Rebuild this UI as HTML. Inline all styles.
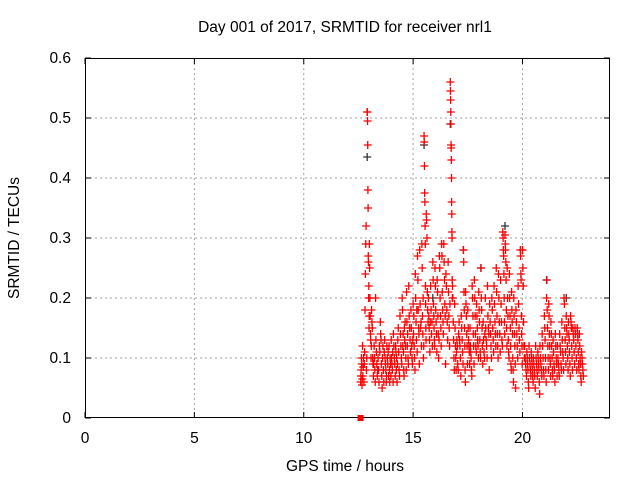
<!DOCTYPE html>
<html><head><meta charset="utf-8"><style>
body{margin:0;background:#fff;}
svg{display:block;font-family:"Liberation Sans",sans-serif;}
</style></head><body>
<svg id="chart" width="640" height="480">
<text x="345" y="32" text-anchor="middle" font-size="15.5">Day 001 of 2017, SRMTID for receiver nrl1</text>
<text x="345" y="471" text-anchor="middle" font-size="15.5">GPS time / hours</text>
<text x="19" y="238" text-anchor="middle" font-size="15.5" transform="rotate(-90 19 238)">SRMTID / TECUs</text>
<g id="grid"></g>
<g id="axes"></g>
<g id="marks"></g>
</svg>
<script>
const xTicks=[0,5,10,15,20];
const yTicks=[0,0.1,0.2,0.3,0.4,0.5,0.6];
const yTickLabels=["0","0.1","0.2","0.3","0.4","0.5","0.6"];
const hours=[12.6,12.7,12.8,12.9,13.0,13.1,13.2,13.3,13.4,13.5,13.6,13.7,13.8,13.9,14.0,14.1,14.2,14.3,14.4,14.5,14.6,14.7,14.8,14.9,15.0,15.1,15.2,15.3,15.4,15.5,15.6,15.7,15.8,15.9,16.0,16.1,16.2,16.3,16.4,16.5,16.6,16.7,16.8,16.9,17.0,17.1,17.2,17.3,17.4,17.5,17.6,17.7,17.8,17.9,18.0,18.1,18.2,18.3,18.4,18.5,18.6,18.7,18.8,18.9,19.0,19.1,19.2,19.3,19.4,19.5,19.6,19.7,19.8,19.9,20.0,20.1,20.2,20.3,20.4,20.5,20.6,20.7,20.8,20.9,21.0,21.1,21.2,21.3,21.4,21.5,21.6,21.7,21.8,21.9,22.0,22.1,22.2,22.3,22.4,22.5,22.6,22.7];
const values=[
[.06,.07,.08,.1,.09,.055,.065,.12],[.07,.085,.1,.06,.09,.11],[.18,.24,.29,.32,.08,.1],
[.51,.51,.495,.455,.38,.35,.27,.26,.2,.22,.15,.17],[.29,.25,.2,.17,.14,.13,.1,.12],[.18,.16,.15,.1,.09,.07],
[.09,.12,.1,.08,.06,.2],[.13,.11,.09,.07,.08],[.1,.08,.06,.12,.11],[.16,.14,.13,.09,.07,.05],
[.1,.12,.08,.06,.11],[.13,.1,.09,.08,.06,.07],[.12,.1,.09,.11,.07],[.12,.08,.06,.1,.09,.07],
[.13,.1,.09,.08,.11,.06],[.14,.12,.1,.09,.07],[.12,.11,.08,.1,.06,.09],[.13,.15,.11,.08,.07],
[.17,.14,.12,.1,.09],[.2,.18,.12,.14,.11,.08,.07],[.15,.13,.16,.12,.1,.08],[.21,.16,.12,.14,.1,.09],
[.22,.17,.15,.13,.11],[.18,.15,.12,.1,.09,.13],[.19,.14,.17,.12,.1,.08],[.24,.2,.16,.13,.18,.11],
[.27,.23,.18,.15,.14,.09],[.28,.19,.15,.16,.12],[.29,.25,.17,.14,.2,.1,.12],
[.47,.46,.42,.375,.36,.32,.29,.22,.19,.15,.13],[.34,.33,.3,.21,.18,.16],[.2,.17,.15,.13,.11,.16],
[.22,.18,.14,.16,.12],[.26,.23,.19,.17,.15,.13,.12],[.25,.22,.18,.16,.14,.11],[.23,.21,.17,.14,.1,.13],
[.27,.25,.2,.17,.15,.12],[.29,.27,.21,.18,.16,.14],[.29,.26,.23,.19,.17,.09],[.24,.22,.18,.16,.13],
[.26,.21,.17,.15,.12,.19],[.56,.545,.53,.51,.49,.455,.45,.43,.4,.36,.34,.31,.3,.23,.2],
[.22,.2,.16,.13,.1,.08],[.19,.15,.12,.1,.08,.11],[.13,.12,.09,.08,.14],[.16,.13,.12,.1,.07],
[.17,.15,.13,.11,.09],[.28,.26,.21,.18,.15,.12,.08,.06],[.21,.19,.17,.14,.12,.09],[.18,.15,.13,.12,.11,.09],
[.15,.12,.11,.1,.08,.07],[.22,.2,.17,.14,.12,.09],[.23,.2,.17,.14,.12,.11],[.19,.17,.15,.13,.12,.1],
[.21,.18,.16,.13,.11,.1],[.25,.2,.18,.15,.12,.09],[.16,.13,.11,.1,.14],[.2,.15,.13,.12,.1],
[.22,.17,.15,.14,.08],[.19,.16,.14,.12,.1],[.2,.18,.15,.13,.11],[.22,.19,.16,.14,.12],
[.25,.21,.17,.14,.12,.1],[.24,.2,.16,.14,.11],[.23,.19,.16,.13,.12],[.31,.3,.28,.27,.24,.2,.16,.14],
[.305,.29,.28,.26,.23,.18,.15,.12],[.25,.2,.17,.13,.11,.1],[.24,.2,.17,.15,.12,.09,.08],
[.21,.18,.16,.14,.1,.08,.06],[.2,.17,.14,.12,.09,.05],[.18,.16,.14,.12,.1],[.22,.19,.15,.13,.11],
[.28,.27,.24,.23,.17,.14,.12,.09],[.28,.25,.22,.16,.12,.1],[.12,.1,.09,.08,.07],[.11,.1,.09,.08,.06,.05],
[.12,.1,.09,.08,.07],[.11,.1,.09,.08,.07,.06],[.1,.09,.08,.07,.05],[.12,.1,.09,.08,.07],
[.11,.1,.09,.08,.06,.04],[.12,.1,.09,.08,.07],[.14,.12,.1,.08,.07],[.17,.15,.13,.1,.08,.06],
[.2,.23,.18,.15,.12,.1,.08],[.19,.17,.14,.12,.1,.09,.07],[.16,.14,.12,.1,.08,.07],[.13,.11,.09,.08,.06],
[.14,.12,.1,.09,.07],[.12,.1,.09,.08,.07],[.14,.12,.11,.09,.08],[.16,.13,.11,.1,.08],
[.2,.19,.15,.13,.11,.09],[.17,.15,.14,.12,.1,.08],[.16,.14,.13,.11,.09,.07],[.17,.16,.15,.12,.1,.08],
[.15,.14,.13,.11,.09],[.15,.14,.12,.1,.08],[.15,.14,.13,.11,.09,.08],[.14,.12,.1,.09,.07,.06],[.11,.1,.09,.08,.07]
];
const blackHours=[12.9,15.5,16.7,19.2,21.1,22.0,17.3,18.1,15.9,20.0];
const blackValues=[.435,.455,.49,.32,.23,.2,.28,.25,.2,.28];
const zeroHours=[12.6];
const zeroValues=[0];

const L=85,R=610,T=58,B=418,XMAX=24,YMAX=0.6;
const sx=h=>L+(h/XMAX)*(R-L);
const sy=v=>B-(v/YMAX)*(B-T);
const NS="http://www.w3.org/2000/svg";
function mk(tag,attrs,parent){const e=document.createElementNS(NS,tag);for(const k in attrs)e.setAttribute(k,attrs[k]);parent.appendChild(e);return e;}
const grid=document.getElementById('grid'),axes=document.getElementById('axes'),marks=document.getElementById('marks');
yTicks.forEach((v,i)=>{
  const y=sy(v);
  if(i>0&&i<yTicks.length-1){const g=mk('line',{x1:L,x2:R,y1:y,y2:y,stroke:'#a0a0a0','stroke-dasharray':'2,3'},grid);
  
  }
  mk('line',{x1:L,x2:L+6,y1:y,y2:y,stroke:'#000'},axes);
  mk('line',{x1:R,x2:R-6,y1:y,y2:y,stroke:'#000'},axes);
  const t=mk('text',{x:L-14,y:y+5,'text-anchor':'end','font-size':'15.5'},axes);
  t.textContent=yTickLabels[i];
  
  
});
xTicks.forEach(h=>{
  const x=sx(h);
  if(h>0){const g=mk('line',{x1:x,x2:x,y1:T,y2:B,stroke:'#a0a0a0','stroke-dasharray':'2,3'},grid);
  
  }
  mk('line',{x1:x,x2:x,y1:B,y2:B-6,stroke:'#000'},axes);
  mk('line',{x1:x,x2:x,y1:T,y2:T+6,stroke:'#000'},axes);
  const t=mk('text',{x:x,y:B+25,'text-anchor':'middle','font-size':'15.5'},axes);
  t.textContent=String(h);
  
  
});
const frame=mk('rect',{x:L+0.5,y:T+0.5,width:R-L-1,height:B-T-1,fill:'none',stroke:'#000'},axes);


function plus(x,y,c){
  return mk('path',{d:`M${x-4},${y}h8M${x},${y-4}v8`,stroke:c,'stroke-width':'1.3',fill:'none'},marks);
}
blackHours.forEach((h,i)=>{
  const p=plus(sx(h),sy(blackValues[i]),'#333');
  
  
});
hours.forEach((h,i)=>{
  const row=values[i];
  row.forEach((v,j)=>{
    const p=plus(sx(h+(j/row.length)*0.1),sy(v),'#ff0000');
    
    
  });
});
zeroHours.forEach((h,i)=>{
  const r=mk('rect',{x:sx(h)-3,y:sy(zeroValues[i])-3,width:6,height:6,fill:'#ff0000'},marks);
  
  
});
</script>
</body></html>
